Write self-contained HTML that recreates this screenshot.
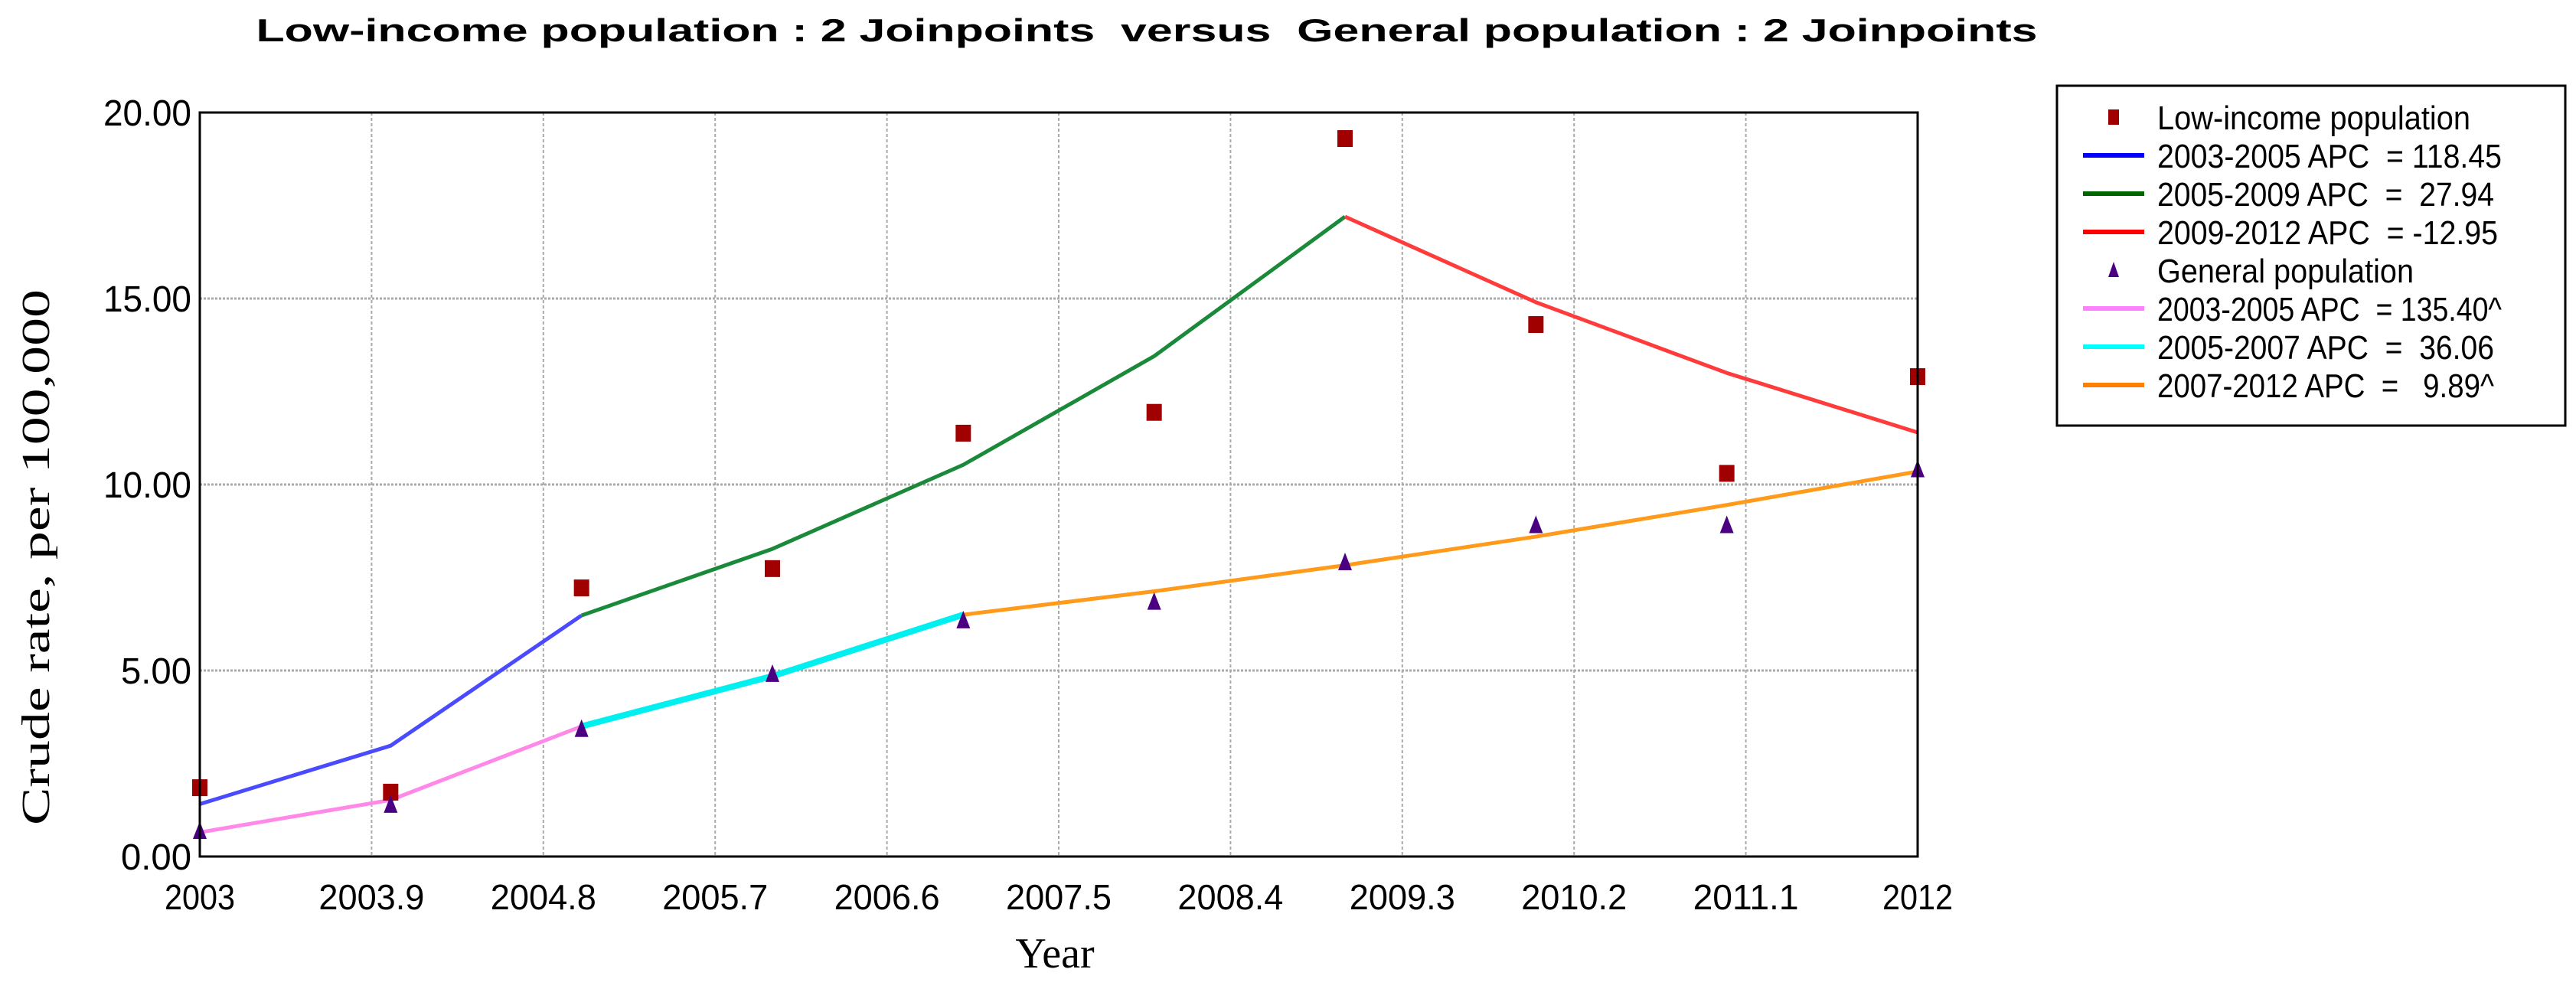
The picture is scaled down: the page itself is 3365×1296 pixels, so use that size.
<!DOCTYPE html>
<html><head><meta charset="utf-8"><style>
html,body{margin:0;padding:0;background:#fff}
svg{display:block}
text{font-family:"Liberation Sans",sans-serif}
</style></head><body>
<svg id="chart" width="3365" height="1296" viewBox="0 0 3365 1296" xmlns="http://www.w3.org/2000/svg">
<rect x="0" y="0" width="3365" height="1296" fill="#fff"/>
<text x="1498" y="54" text-anchor="middle" font-size="42" font-weight="bold" textLength="2327" lengthAdjust="spacingAndGlyphs" style="white-space:pre">Low-income population : 2 Joinpoints  versus  General population : 2 Joinpoints</text>
<g id="grid"></g>
<g id="lines"></g>
<g id="marks"></g>
<rect x="261" y="147" width="2244" height="972" fill="none" stroke="#000" stroke-width="3"/>
<g id="yticks"></g>
<g id="xticks"></g>
<text transform="translate(64,728) rotate(-90)" text-anchor="middle" font-size="52" textLength="700" lengthAdjust="spacingAndGlyphs" style="font-family:'Liberation Serif',serif">Crude rate, per 100,000</text>
<text x="1378" y="1264" text-anchor="middle" font-size="56" style="font-family:'Liberation Serif',serif">Year</text>
<g>
<rect x="2687" y="112" width="664" height="444" fill="#fff" stroke="#000" stroke-width="3"/>
<g id="legend"></g>
</g>
</svg>
<script>
const years=[2003,2004,2005,2006,2007,2008,2009,2010,2011,2012];
const lowIncome=[1.85,1.73,7.22,7.74,11.38,11.94,19.3,14.3,10.3,12.9];
const general=[0.68,1.38,3.42,4.9,6.34,6.84,7.9,8.9,8.9,10.4];
const lowSeg1Years=[2003,2004,2005];
const lowSeg1=[1.41,2.98,6.48];
const lowSeg2Years=[2005,2006,2007,2008,2009];
const lowSeg2=[6.48,8.27,10.53,13.45,17.2];
const lowSeg3Years=[2009,2010,2011,2012];
const lowSeg3=[17.2,14.9,13.0,11.4];
const genSeg1Years=[2003,2004,2005];
const genSeg1=[0.65,1.52,3.5];
const genSeg2Years=[2005,2006,2007];
const genSeg2=[3.5,4.85,6.5];
const genSeg3Years=[2007,2008,2009,2010,2011,2012];
const genSeg3=[6.5,7.13,7.83,8.6,9.45,10.35];
const xTicks=[2003,2003.9,2004.8,2005.7,2006.6,2007.5,2008.4,2009.3,2010.2,2011.1,2012];
const xTickLabels=["2003","2003.9","2004.8","2005.7","2006.6","2007.5","2008.4","2009.3","2010.2","2011.1","2012"];
const yTicks=[0,5,10,15,20];
const yTickLabels=["0.00","5.00","10.00","15.00","20.00"];
const legendLabels=["Low-income population","2003-2005 APC  = 118.45","2005-2009 APC  =  27.94","2009-2012 APC  = -12.95","General population","2003-2005 APC  = 135.40^","2005-2007 APC  =  36.06","2007-2012 APC  =   9.89^"];

const NS="http://www.w3.org/2000/svg";
const L=261,R=2505,T=147,B=1119;
const X=v=>L+(v-2003)/9*(R-L);
const Y=v=>B-v/20*(B-T);
function mk(tag,attrs,parent){const e=document.createElementNS(NS,tag);for(const k in attrs)e.setAttribute(k,attrs[k]);parent.appendChild(e);return e;}
const grid=document.getElementById('grid');
xTicks.forEach((t,i)=>{if(i===0||i===xTicks.length-1)return;
 const l=mk('line',{x1:X(t),x2:X(t),y1:T,y2:B,stroke:'#aaa','stroke-width':2,'stroke-dasharray':'4 3'},grid);
 
 });
yTicks.forEach((t,i)=>{if(i===0||i===yTicks.length-1)return;
 const l=mk('line',{x1:L,x2:R,y1:Y(t),y2:Y(t),stroke:'#aaa','stroke-width':3,'stroke-dasharray':'3 2'},grid);
 
 });
const xt=document.getElementById('xticks');
xTicks.forEach((t,i)=>{const s=xTickLabels[i];
 const e=mk('text',{x:X(t),y:1188,'text-anchor':'middle','font-size':46,textLength:s.length*23,lengthAdjust:'spacingAndGlyphs'},xt);
 e.textContent=s;
 
 });
const yt=document.getElementById('yticks');
yTicks.forEach((t,i)=>{const s=yTickLabels[i];
 const e=mk('text',{x:250,y:Y(t)+17,'text-anchor':'end','font-size':48,textLength:s.length*23,lengthAdjust:'spacingAndGlyphs'},yt);
 e.textContent=s;
 
 });
const lines=document.getElementById('lines');
function seg(xs,vs,color,w,name){
 const p=mk('polyline',{points:xs.map((x,i)=>X(x)+','+Y(vs[i])).join(' '),fill:'none',stroke:color,'stroke-width':w,'stroke-linejoin':'round'},lines);
 
 }
seg(lowSeg1Years,lowSeg1,'#4a4aff',5,'low-income-trend-2003-2005');
seg(lowSeg2Years,lowSeg2,'#1a8a3a',5,'low-income-trend-2005-2009');
seg(lowSeg3Years,lowSeg3,'#ff3b3b',5,'low-income-trend-2009-2012');
seg(genSeg1Years,genSeg1,'#ff88e8',5,'general-trend-2003-2005');
seg(genSeg2Years,genSeg2,'#00f0f0',8,'general-trend-2005-2007');
seg(genSeg3Years,genSeg3,'#ff9a1a',5,'general-trend-2007-2012');
const marks=document.getElementById('marks');
years.forEach((y,i)=>{
 const s=mk('rect',{x:X(y)-10,y:Y(lowIncome[i])-11,width:20,height:22,fill:'#a00000'},marks);
 
 
 const cx=X(y),cy=Y(general[i]);
 const t=mk('polygon',{points:`${cx},${cy-13} ${cx-9},${cy+10} ${cx+9},${cy+10}`,fill:'#4b0082'},marks);
 
 });
const lg=document.getElementById('legend');
const lgColors=[null,'#0000ff','#006400','#ff0000',null,'#ff80ff','#00ffff','#ff8000'];
const lgWidths=[409,450,440,445,335,450,440,440];
legendLabels.forEach((s,i)=>{const cy=153+i*50;
 if(i===0){const m=mk('rect',{x:2754,y:cy-10,width:14,height:20,fill:'#a00000'},lg);
  
  }
 else if(i===4){const m=mk('polygon',{points:`2761,${cy-11} 2754,${cy+9} 2768,${cy+9}`,fill:'#4b0082'},lg);
  
  }
 else{const m=mk('line',{x1:2721,x2:2801,y1:cy,y2:cy,stroke:lgColors[i],'stroke-width':6},lg);
  
  }
 const e=mk('text',{x:2818,y:cy+16,'font-size':44,textLength:lgWidths[i],lengthAdjust:'spacingAndGlyphs',style:'white-space:pre'},lg);
 e.textContent=s;
 
 });
</script>
</body></html>
